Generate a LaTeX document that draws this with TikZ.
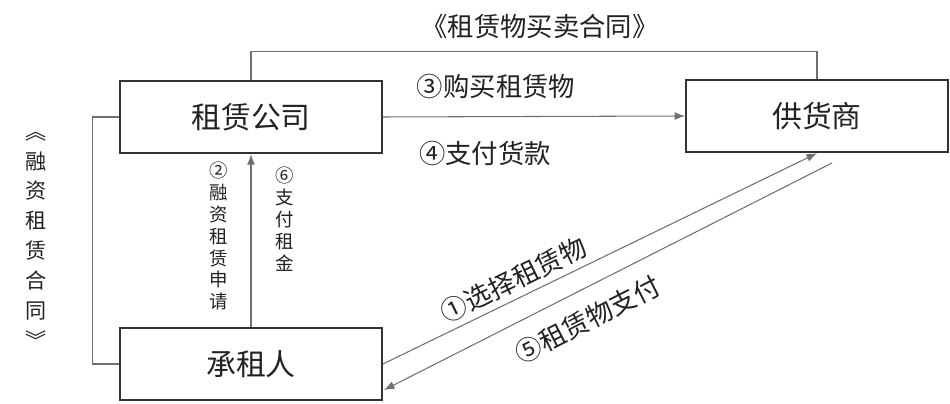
\documentclass[tikz,border=0pt]{standalone}
\usepackage{fontspec}
\setmainfont{Noto Sans CJK SC}
\usetikzlibrary{arrows.meta, positioning, calc}
\definecolor{BoxLine}{HTML}{333333}
\definecolor{Wire}{HTML}{707070}
\definecolor{Ink}{HTML}{222222}

\begin{document}
\begin{tikzpicture}[x=0.02cm, y=-0.02cm, align=center, text=Ink,
    party/.style={draw=BoxLine, line width=1.1pt, minimum width=5.24cm, minimum height=1.45cm, font=\fontsize{17}{20}\selectfont},
    wire/.style={draw=Wire, line width=0.6pt},
    flow/.style={wire, -{Latex[length=6pt, width=4.5pt]}},
    lbl/.style={font=\fontsize{15}{18}\selectfont},
    vlbl/.style={font=\fontsize{10.5}{12.5}\selectfont, inner sep=0pt}]
  \useasboundingbox[fill=white] (0,0) rectangle (950,404);

  \node (company) [party] at (251,117) {租赁公司};
  \node (supplier) [party] at (817,116) {供货商};
  \node (lessee) [party] at (251,364) {承租人};

  % contracts
  \draw[wire] (company.north) -- ++(0,-28) -| (supplier.north);
  \node (salecontract) [lbl] at (540,26) {《租赁物买卖合同》};
  \draw[wire] (company.west) -- ++(-27,0) |- (lessee.west);
  \node (leasecontract) [inner sep=0pt, font=\fontsize{12}{17}\selectfont] at (36,240) {︽\\融\\资\\租\\赁\\合\\同\\︾};

  % flows
  \draw[flow] (company.east) -- (supplier.west);
  \node (buy) [lbl] at (496,86) {③购买租赁物};
  \node (pay) [lbl] at (485,153) {④支付货款};

  \draw[flow] (lessee.north) -- (company.south);
  \node (apply) [vlbl] at (219,236) {②\\融\\资\\租\\赁\\申\\请};
  \node (rent) [vlbl] at (285,219) {⑥\\支\\付\\租\\金};

  \coordinate (goodsfrom) at (832,163);
  \coordinate (goodsto) at (384,390);
  \draw[flow] (lessee.east) -- (supplier.south) node[pos=0.32, above=0pt, sloped, lbl] (choose) {①选择租赁物};
  \draw[flow] (goodsfrom) -- (goodsto) node[pos=0.575, below=6pt, sloped, lbl] (deliver) {⑤租赁物支付};
\end{tikzpicture}
\end{document}
